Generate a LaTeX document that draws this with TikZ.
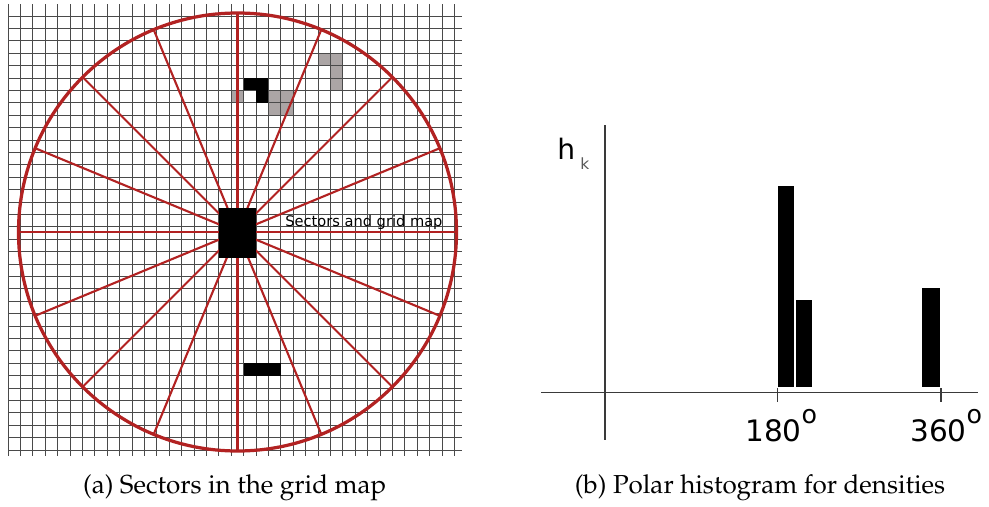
\documentclass[tikz,border=0pt]{standalone}
\usepackage[T1,TU]{fontenc}
\usepackage{fontspec}
\usepackage{xcolor}
\usepackage{tikz}
\newfontfamily\labelfont{DejaVu Sans}
\newcommand{\capfont}{\fontencoding{T1}\fontfamily{ppl}\selectfont}
\definecolor{MapLine}{HTML}{4A4A4A}
\definecolor{MapRed}{HTML}{B22222}
\definecolor{MapGray}{HTML}{ABA5A5}
\definecolor{AxisLine}{HTML}{3A3A3A}

\begin{document}
\begin{tikzpicture}[x=0.025cm,y=-0.025cm,
  gridline/.style={MapLine,line width=.55pt},
  spoke/.style={MapRed,line width=1.5pt},
  axis/.style={AxisLine,line width=1pt}]
\path[use as bounding box] (0,0) rectangle (989,507);
\fill[white] (0,0) rectangle (989,507);
\foreach \i/\j in {25/3,26/3,26/4,26/5,18/6,21/6,22/6,21/7,22/7}
  \fill[MapGray] ({8+12.4*\i},{16+12.4*\j}) rectangle ++(12.4,12.4);
\foreach \i in {0,...,36}
  \draw[gridline] ({8+12.4*\i},4) -- ({8+12.4*\i},455.7);
\foreach \j in {0,...,35}
  \draw[gridline] (8,{16+12.4*\j}) -- (461.7,{16+12.4*\j});
\foreach \i/\j in {19/5,20/5,20/6,19/28,20/28,21/28}
  \fill[black] ({8+12.4*\i},{16+12.4*\j}) rectangle ++(12.4,12.4);
\coordinate (robot) at (237.5,232);
\foreach \a in {0,22.5,...,337.5}
  \draw[spoke] (robot) -- ++(\a:219);
\draw[MapRed,line width=2.3pt] (robot) circle (219);
\fill[black] (218.5,207.7) rectangle (255.8,258.3);
\node[anchor=base west,inner sep=0] (maplabel) at (285,226.7)
  {\labelfont\fontsize{10.4}{12}\selectfont Sectors and grid map};
\draw[axis] (605,125) -- (605,440);
\draw[axis] (541,392.5) -- (978,392.5);
\draw[axis] (777.5,388) -- (777.5,402);
\draw[axis] (941,388) -- (941,402);
\fill[black] (778.3,186) rectangle (794,386.7);
\fill[black] (795.7,300) rectangle (811.7,386.7);
\fill[black] (921.7,288.3) rectangle (940.3,386.7);
\node[anchor=base west,inner sep=0] (hlabel) at (557,159)
  {\labelfont\fontsize{20}{24}\selectfont h};
\node[anchor=base west,inner sep=0,black!65] (klabel) at (580,169)
  {\labelfont\fontsize{11}{13}\selectfont k};
\node[anchor=base west,inner sep=0] (deg180) at (745,441)
  {\labelfont\fontsize{21}{25}\selectfont 180\raisebox{12.6pt}{\fontsize{18}{20}\selectfont o}};
\node[anchor=base west,inner sep=0] (deg360) at (910,441)
  {\labelfont\fontsize{21}{25}\selectfont 360\raisebox{12.6pt}{\fontsize{18}{20}\selectfont o}};
\node[anchor=base,inner sep=0] (capa) at (234.7,493)
  {\capfont\fontsize{18.5}{22}\selectfont (a) Sectors in the grid map};
\node[anchor=base,inner sep=0] (capb) at (760,493)
  {\capfont\fontsize{18.5}{22}\selectfont (b) Polar histogram for densities};
\end{tikzpicture}
\end{document}
